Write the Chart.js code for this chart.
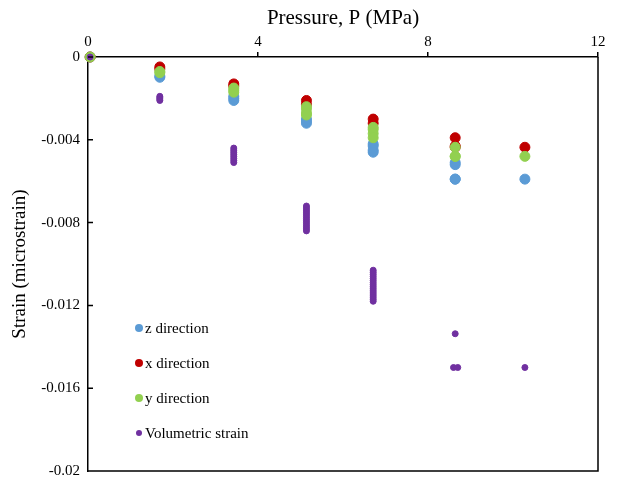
<!DOCTYPE html>
<html>
<head>
<meta charset="utf-8">
<script src="https://cdn.jsdelivr.net/npm/chart.js@4"></script>
<style>
  body { margin: 0; background: #fff; }
  #wrap { position: relative; width: 617px; height: 477px; }
  #legend { position: absolute; left: 0; top: 0; font-family: "Liberation Serif", "Times New Roman", serif; font-size: 15px; color: #000; }
  .item { position: absolute; white-space: nowrap; line-height: 18px; }
  .dot { position: absolute; border-radius: 50%; }
</style>
</head>
<body>
<div id="wrap">
  <canvas id="strainChart" width="617" height="477"></canvas>
  <div id="legend"></div>
</div>
<script>
// z direction
const zPressure = [0.05, 1.69, 1.69, 3.43, 3.43, 3.43, 5.14, 5.14, 5.14, 6.71, 6.71, 6.71, 6.71, 8.64, 8.64, 8.64, 8.64, 10.28];
const zStrain   = [0, -0.00092, -0.00098, -0.0019, -0.002, -0.0021, -0.003, -0.0031, -0.0032, -0.0042, -0.0043, -0.0045, -0.0046, -0.0051, -0.0052, -0.0059, -0.0059, -0.0059];

// x direction
const xPressure = [0.05, 1.69, 1.69, 3.43, 3.43, 5.14, 5.14, 6.71, 6.71, 8.64, 8.64, 8.64, 10.28];
const xStrain   = [0, -0.00048, -0.00058, -0.0013, -0.0014, -0.0021, -0.0023, -0.003, -0.0032, -0.0039, -0.0043, -0.00436, -0.00436];

// y direction
const yPressure = [0.05, 1.69, 1.69, 3.43, 3.43, 3.43, 5.14, 5.14, 5.14, 5.14, 6.71, 6.71, 6.71, 6.71, 8.64, 8.64, 8.64, 10.28];
const yStrain   = [0, -0.0007, -0.00076, -0.0015, -0.0016, -0.0017, -0.0024, -0.0025, -0.0027, -0.0028, -0.0034, -0.0035, -0.0037, -0.0039, -0.00436, -0.0048, -0.0048, -0.0048];

// volumetric strain
const vPressure = [0.05, 1.69, 1.69, 1.69, 1.69,
                   3.43, 3.43, 3.43, 3.43, 3.43, 3.43, 3.43, 3.43,
                   5.14, 5.14, 5.14, 5.14, 5.14, 5.14, 5.14, 5.14, 5.14, 5.14, 5.14, 5.14, 5.14,
                   6.71, 6.71, 6.71, 6.71, 6.71, 6.71, 6.71, 6.71, 6.71, 6.71, 6.71, 6.71, 6.71, 6.71, 6.71, 6.71,
                   8.64, 8.6, 8.7, 10.28];
const vStrain   = [0, -0.0019, -0.00197, -0.00203, -0.0021,
                   -0.0044, -0.0045, -0.0046, -0.0047, -0.0048, -0.0049, -0.005, -0.0051,
                   -0.0072, -0.0073, -0.0074, -0.0075, -0.0076, -0.0077, -0.0078, -0.0079, -0.008, -0.0081, -0.0082, -0.0083, -0.0084,
                   -0.0103, -0.0104, -0.0105, -0.0106, -0.0107, -0.0108, -0.0109, -0.011, -0.0111, -0.0112, -0.0113, -0.0114, -0.0115, -0.0116, -0.0117, -0.0118,
                   -0.01337, -0.015, -0.015, -0.015];

const xTicks = [0, 4, 8, 12];
const yTicks = [0, -0.004, -0.008, -0.012, -0.016, -0.02];

const seriesNames = ['z direction', 'x direction', 'y direction', 'Volumetric strain'];
const seriesColors = ['#5B9BD5', '#C00000', '#92D050', '#7030A0'];

function pts(xs, ys) {
    return xs.map((x, i) => ({ x: x, y: ys[i] }));
}

const serif = '"Liberation Serif", "Times New Roman", serif';

// right and bottom frame lines, inward ticks on the strain axis
const framePlugin = {
    id: 'frame',
    afterDraw(chart) {
        const { ctx, chartArea: a } = chart;
        const ys = chart.scales.y;
        ctx.save();
        ctx.strokeStyle = '#000';
        ctx.lineWidth = 1.5;
        ctx.beginPath();
        ctx.moveTo(a.left, a.bottom);
        ctx.lineTo(a.right, a.bottom);
        ctx.lineTo(a.right, a.top);
        yTicks.forEach(v => {
            const p = ys.getPixelForValue(v);
            ctx.moveTo(a.left, p);
            ctx.lineTo(a.left + 5, p);
        });
        ctx.stroke();
        ctx.restore();
    }
};

new Chart(document.getElementById('strainChart'), {
    type: 'scatter',
    data: {
        datasets: [
            { label: seriesNames[0], data: pts(zPressure, zStrain), backgroundColor: seriesColors[0], borderColor: seriesColors[0], pointRadius: 5, order: 4, clip: false },
            { label: seriesNames[1], data: pts(xPressure, xStrain), backgroundColor: seriesColors[1], borderColor: seriesColors[1], pointRadius: 5, order: 3, clip: false },
            { label: seriesNames[2], data: pts(yPressure, yStrain), backgroundColor: seriesColors[2], borderColor: seriesColors[2], pointRadius: 5, order: 2, clip: false },
            { label: seriesNames[3], data: pts(vPressure, vStrain), backgroundColor: seriesColors[3], borderColor: seriesColors[3], pointRadius: 3, order: 1, clip: false }
        ]
    },
    options: {
        responsive: false,
        animation: false,
        layout: { padding: { right: 19, bottom: 6 } },
        plugins: {
            legend: { display: false },
            tooltip: { enabled: false }
        },
        scales: {
            x: {
                type: 'linear',
                position: 'top',
                min: 0,
                max: 12,
                afterFit: s => { s.height = 57; s.paddingLeft = 0; s.paddingRight = 0; },
                afterBuildTicks: s => { s.ticks = xTicks.map(v => ({ value: v })); },
                grid: { display: true, drawOnChartArea: false, drawTicks: true, tickLength: 5, color: '#000', lineWidth: 1.5 },
                border: { display: true, color: '#000', width: 1.5 },
                ticks: { color: '#000', font: { family: serif, size: 15 }, padding: 1, maxRotation: 0 },
                title: { display: true, text: 'Pressure, P (MPa)', color: '#000', font: { family: serif, size: 21 }, padding: { top: 6, bottom: 0 } }
            },
            y: {
                type: 'linear',
                min: -0.02,
                max: 0,
                afterFit: s => { s.width = 88; s.paddingTop = 0; s.paddingBottom = 0; },
                afterBuildTicks: s => { s.ticks = yTicks.map(v => ({ value: v })); },
                grid: { display: false, drawTicks: false },
                border: { display: true, color: '#000', width: 1.5 },
                ticks: {
                    color: '#000',
                    font: { family: serif, size: 15 },
                    padding: 8,
                    callback: v => String(Number(v.toFixed(3)))
                },
                title: { display: true, text: 'Strain (microstrain)', color: '#000', font: { family: serif, size: 19 }, padding: { top: 9, bottom: 0 } }
            }
        }
    },
    plugins: [framePlugin]
});

// legend inside the plot, bottom left
const legendEl = document.getElementById('legend');
seriesNames.forEach((name, i) => {
    const cy = 328 + i * 35;
    const r = i === 3 ? 3 : 4;
    const dot = document.createElement('div');
    dot.className = 'dot';
    dot.style.background = seriesColors[i];
    dot.style.width = (r * 2) + 'px';
    dot.style.height = (r * 2) + 'px';
    dot.style.left = (139 - r) + 'px';
    dot.style.top = (cy - r) + 'px';
    legendEl.appendChild(dot);
    const item = document.createElement('div');
    item.className = 'item';
    item.textContent = name;
    item.style.left = '145px';
    item.style.top = (cy - 9) + 'px';
    legendEl.appendChild(item);
});
</script>
</body>
</html>
